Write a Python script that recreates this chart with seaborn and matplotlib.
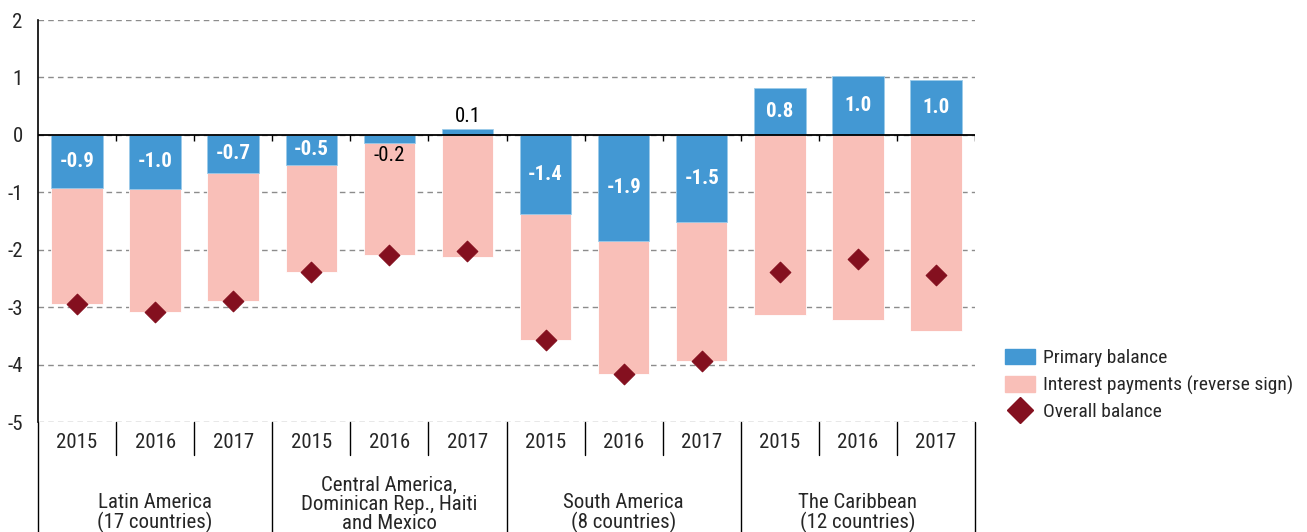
import numpy as np
import pandas as pd
import matplotlib
matplotlib.use("Agg")
import matplotlib.pyplot as plt
import seaborn as sns
from matplotlib.patches import Patch
from matplotlib.lines import Line2D

# ── Data ─────────────────────────────────────────────────────────────────────
GROUPS = ["Latin America\n(17 countries)",
          "Central America,\nDominican Rep., Haiti\nand Mexico",
          "South America\n(8 countries)",
          "The Caribbean\n(12 countries)"]
YEARS = ["2015", "2016", "2017"]

primary  = [-0.92, -0.94, -0.66, -0.52, -0.14, 0.10, -1.38, -1.84, -1.51, 0.82, 1.03, 0.96]
interest = [ 2.02,  2.14,  2.24,  1.86,  1.96, 2.12,  2.19,  2.33,  2.42, 3.14, 3.23, 3.41]
overall  = [-2.94, -3.08, -2.90, -2.38, -2.10, -2.02, -3.57, -4.17, -3.93, -2.38, -2.17, -2.44]
labels   = ["-0.9", "-1.0", "-0.7", "-0.5", "-0.2", "0.1", "-1.4", "-1.9", "-1.5", "0.8", "1.0", "1.0"]

BLUE, PINK, RED = "#4398D3", "#F9BFB8", "#84101F"

sns.set_style("white")
plt.rcParams["font.family"] = ["Roboto Condensed", "Archivo Narrow", "Roboto", "DejaVu Sans"]
plt.rcParams["font.size"] = 14

keys = [f"{g.split(chr(10))[0]} {y}" for g in GROUPS for y in YEARS]
df = pd.DataFrame({"key": keys, "primary": primary, "interest": interest, "overall": overall})
df["pink"] = np.minimum(df["primary"], 0) - df["interest"]
df["pos"] = np.arange(len(df))

fig = plt.figure(figsize=(13.07, 5.32), dpi=100)
ax = fig.add_axes([38 / 1307, 1 - 422 / 532, (975 - 38) / 1307, 402 / 532])

sns.barplot(data=df, x="key", y="pink", color=PINK, width=0.66, saturation=1,
            edgecolor="white", linewidth=0.6, ax=ax, zorder=2)
sns.barplot(data=df, x="key", y="primary", color=BLUE, width=0.66, saturation=1,
            edgecolor="#9ccbea", linewidth=0.6, ax=ax, zorder=3)
sns.scatterplot(data=df, x="pos", y="overall", marker="D", s=110, color=RED,
                edgecolor=RED, ax=ax, zorder=5, legend=False)

ax.set_xlim(-0.5, len(df) - 0.5)
ax.set_ylim(-5, 2)
ax.set_yticks(range(-5, 3))
ax.set_yticklabels([str(v) for v in range(-5, 3)], fontsize=15)
ax.yaxis.grid(True, linestyle=(0, (4, 3)), color="#8c8c8c", linewidth=1)
ax.set_axisbelow(True)
ax.tick_params(axis="y", length=5, color="#8c8c8c", pad=6)
ax.set_xticks([])
ax.set_xlabel("")
ax.set_ylabel("")
for s in ["top", "right", "bottom"]:
    ax.spines[s].set_visible(False)
ax.spines["left"].set_color("black")
ax.spines["left"].set_linewidth(1.2)

# zero line and small ticks
ax.axhline(0, color="black", linewidth=1.3, zorder=4)
bounds = np.arange(0.5, len(df) - 0.5)
ax.vlines(list(bounds) + [len(df) - 0.5], 0, -0.1, color="black", linewidth=1, zorder=4)

# value labels
for i, (p, lab) in enumerate(zip(primary, labels)):
    if abs(p) >= 0.3:
        ax.text(i, p / 2, lab, ha="center", va="center", color="white",
                fontsize=15, fontweight="bold", zorder=6)
    elif p < 0:
        ax.text(i, p - 0.05, lab, ha="center", va="top", color="black", fontsize=15, zorder=6)
    else:
        ax.text(i, p + 0.05, lab, ha="center", va="bottom", color="black", fontsize=15, zorder=6)

# category axis below
tr = ax.get_xaxis_transform()
for i in range(len(df)):
    ax.text(i, -0.05, YEARS[i % 3], transform=tr, ha="center", va="center", fontsize=15)
for b in bounds:
    if (b + 0.5) % 3 != 0:
        ax.plot([b, b], [0, -0.082], transform=tr, color="black", linewidth=1, clip_on=False)
for b in np.arange(-0.5, len(df), 3):
    ax.plot([b, b], [0, -0.28], transform=tr, color="black", linewidth=1, clip_on=False)
for g, name in enumerate(GROUPS):
    ax.text(g * 3 + 1, -0.277, name, transform=tr, ha="center", va="bottom",
            fontsize=15, linespacing=1.0)

handles = [Patch(facecolor=BLUE, edgecolor=BLUE),
           Patch(facecolor=PINK, edgecolor=PINK),
           Line2D([], [], marker="D", color=RED, linestyle="none", markersize=13)]
fig.legend(handles, ["Primary balance", "Interest payments (reverse sign)", "Overall balance"],
           loc="center left", bbox_to_anchor=(0.763, 0.276), frameon=False, fontsize=14,
           handlelength=1.55, handleheight=0.85, handletextpad=0.4, labelspacing=0.42,
           borderaxespad=0)

fig.savefig("out.png", dpi=100)
